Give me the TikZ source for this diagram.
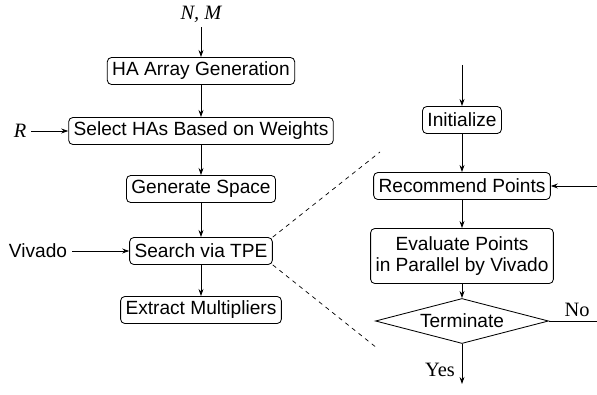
\documentclass[tikz,border=0pt]{standalone}
\usepackage{fontspec}
\setmainfont{Liberation Serif}
\setsansfont{Liberation Sans}
\usetikzlibrary{shapes.geometric,arrows.meta}
\tikzset{
  blk/.style={draw,rounded corners=3pt,font=\sffamily\fontsize{13.6}{15}\selectfont,inner xsep=3.5pt,inner ysep=0pt,minimum height=0.675cm,line width=0.6pt},
  dec/.style={draw,diamond,aspect=3.84,font=\sffamily\fontsize{13.6}{15}\selectfont,inner sep=0pt,minimum width=4.325cm,minimum height=1.125cm,line width=0.6pt},
  arr/.style={-{Stealth[length=5pt,width=3.5pt]},line width=0.6pt},
  lbl/.style={font=\fontsize{14.5}{16}\selectfont}
}
\begin{document}
\begin{tikzpicture}[x=0.025cm,y=-0.025cm]
\useasboundingbox (0,0) rectangle (597,394);
\node[lbl] (nm) at (201,14) {\itshape N, M};
\node[blk] (gen) at (201,71) {HA Array Generation};
\node[blk] (sel) at (201,131) {Select HAs Based on Weights};
\node[lbl] (r) at (20,131) {\itshape R};
\node[blk] (spc) at (201,189) {Generate Space};
\node[blk] (tpe) at (201,251) {Search via TPE};
\node[font=\sffamily\fontsize{13.6}{15}\selectfont] (viv) at (38,251) {Vivado};
\node[blk] (ext) at (201,310) {Extract Multipliers};
\draw[arr] (nm) -- (gen);
\draw[arr] (gen) -- (sel);
\draw[arr] (r) -- (sel);
\draw[arr] (sel) -- (spc);
\draw[arr] (spc) -- (tpe);
\draw[arr] (viv) -- (tpe);
\draw[arr] (tpe) -- (ext);
\coordinate (in) at (462,65);
\node[blk] (ini) at (462,120) {Initialize};
\node[blk] (rec) at (462,186) {Recommend Points};
\coordinate (back) at (597,186);
\node[blk,align=center,minimum height=1.375cm] (eva) at (462,256) {Evaluate Points\\in Parallel by Vivado};
\node[dec] (ter) at (462,321) {Terminate};
\coordinate (no) at (597,321);
\coordinate (out) at (462,384);
\node[lbl] (nolbl) at (577,310) {No};
\node[lbl] (yes) at (440,370) {Yes};
\draw[arr] (in) -- (ini);
\draw[arr] (ini) -- (rec);
\draw[arr] (back) -- (rec);
\draw[arr] (rec) -- (eva);
\draw[arr] (eva) -- (ter);
\draw[line width=0.6pt] (ter.east) -- (no);
\draw[arr] (ter) -- (out);
\coordinate (d1) at (380,152);
\coordinate (d2) at (377,348);
\draw[dashed,line width=0.5pt] (tpe.north east) -- (d1);
\draw[dashed,line width=0.5pt] (tpe.south east) -- (d2);
\end{tikzpicture}
\end{document}
